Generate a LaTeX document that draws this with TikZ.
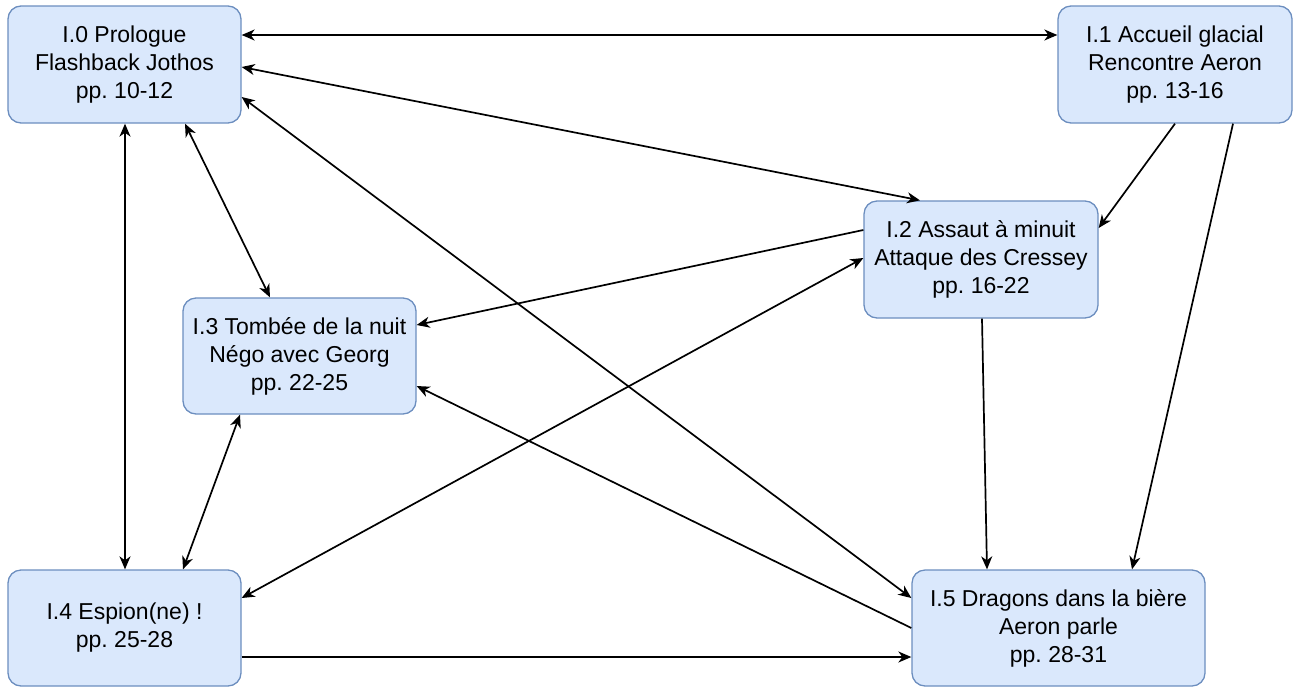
\documentclass[tikz,border=0pt]{standalone}
\usepackage{fontspec}
\setmainfont{Liberation Sans}
\usetikzlibrary{arrows.meta}
\definecolor{boxfill}{HTML}{DAE8FC}
\definecolor{boxdraw}{HTML}{6C8EBF}
\frenchspacing
\begin{document}
\begin{tikzpicture}[x=1pt,y=-1pt,
  scene/.style={draw=boxdraw,fill=boxfill,line width=1.3pt,rounded corners=13pt,
    align=center,inner sep=0pt,font=\fontsize{23}{28}\selectfont},
  link/.style={line width=1.7pt,-{Stealth[length=13pt,width=11pt,inset=4pt]}},
  blink/.style={line width=1.7pt,{Stealth[length=13pt,width=11pt,inset=4pt]}-{Stealth[length=13pt,width=11pt,inset=4pt]}}]
\useasboundingbox (0,0) rectangle (1293,686);
\node[scene,minimum width=233pt,minimum height=117pt] (I0) at (124.5,64.5) {I.0 Prologue\\Flashback Jothos\\pp. 10-12};
\node[scene,minimum width=234pt,minimum height=117pt] (I1) at (1175,64.5) {I.1 Accueil glacial\\Rencontre Aeron\\pp. 13-16};
\node[scene,minimum width=234pt,minimum height=117pt] (I2) at (981,259.5) {I.2 Assaut à minuit\\Attaque des Cressey\\pp. 16-22};
\node[scene,minimum width=233pt,minimum height=116pt] (I3) at (299.5,356) {I.3 Tombée de la nuit\\Négo avec Georg\\pp. 22-25};
\node[scene,minimum width=233pt,minimum height=116pt] (I4) at (124.5,628) {I.4 Espion(ne) !\\pp. 25-28};
\node[scene,minimum width=293pt,minimum height=116pt] (I5) at (1058.5,628) {I.5 Dragons dans la bière\\Aeron parle\\pp. 28-31};

\draw[blink] ([yshift=29.5pt]I0.east) -- ([yshift=29.5pt]I1.west);
\draw[blink] ([yshift=-2.5pt]I0.east) -- ([xshift=-61pt]I2.north);
\draw[blink] ([yshift=-32.5pt]I0.east) -- ([yshift=30pt]I5.west);
\draw[blink] ([xshift=60.5pt]I0.south) -- ([xshift=-29.5pt]I3.north);
\draw[blink] ([xshift=0.5pt]I0.south) -- ([xshift=0.5pt]I4.north);
\draw[link] (I1.south) -- ([yshift=31.5pt]I2.east);
\draw[link] ([xshift=58pt]I1.south) -- ([xshift=73.5pt]I5.north);
\draw[link] ([yshift=29.5pt]I2.west) -- ([yshift=31pt]I3.east);
\draw[link] ([xshift=1pt]I2.south) -- ([xshift=-71.5pt]I5.north);
\draw[blink] ([yshift=30pt]I4.east) -- ([yshift=1.5pt]I2.west);
\draw[blink] ([xshift=-59.5pt]I3.south) -- ([xshift=58.5pt]I4.north);
\draw[link] (I5.west) -- ([yshift=-30pt]I3.east);
\draw[link] ([yshift=-29pt]I4.east) -- ([yshift=-29pt]I5.west);
\end{tikzpicture}
\end{document}
